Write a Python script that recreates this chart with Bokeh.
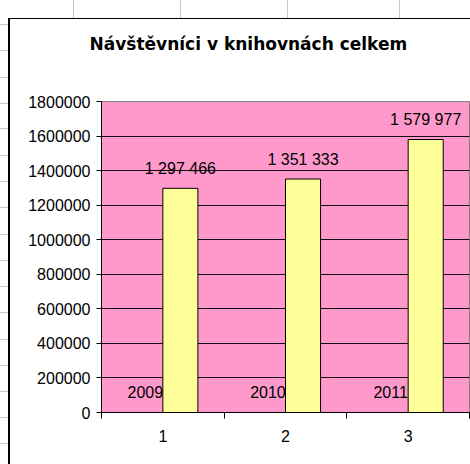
from bokeh.plotting import figure
from bokeh.models import Range1d, FixedTicker, LinearAxis
from bokeh.core.properties import value
from bokeh.embed import file_html
from bokeh.resources import INLINE

# ---- data ----
categories = [1, 2, 3]
years = [2009, 2010, 2011]
visitors = [1297466, 1351333, 1579977]
visitor_labels = ["1 297 466", "1 351 333", "1 579 977"]
year_labels = ["2009", "2010", "2011"]
y_ticks = [0, 200000, 400000, 600000, 800000, 1000000, 1200000, 1400000, 1600000, 1800000]
y_tick_labels = ["0", "200000", "400000", "600000", "800000", "1000000",
                 "1200000", "1400000", "1600000", "1800000"]
x_tick_labels = ["1", "2", "3"]
title_text = "Návštěvníci v knihovnách celkem"

FONT = "Liberation Sans"
PINK = "#FF99CC"
YELLOW = "#FFFF99"

W, H = 470, 464
LB, TB, BB, RB = 101, 101, 52, 1

p = figure(width=W, height=H, output_backend="svg", toolbar_location=None,
           x_range=Range1d(0.5, 3.5), y_range=Range1d(0, 1800000),
           min_border_left=LB, min_border_right=RB, min_border_top=TB,
           min_border_bottom=BB)
p.background_fill_color = PINK
p.border_fill_color = None
p.outline_line_color = "#808080"
p.outline_line_width = 1

# sheet background behind the chart object (decoration only)
layers = [
    "linear-gradient(#000,#000) 8px 18px / 2px 100% no-repeat",
    "linear-gradient(#000,#000) 8px 18px / 100% 1px no-repeat",
    "linear-gradient(#fff,#fff) 8px 18px / 100% 100% no-repeat",
]
for gx in [73, 180, 287, 399]:
    layers.append(f"linear-gradient(#c8c8c8,#c8c8c8) {gx}px 0px / 1px 100% no-repeat")
for gy in [24, 50, 77, 103, 128, 155, 181, 207, 234, 260, 286, 312, 339, 365, 391, 417, 443]:
    layers.append(f"linear-gradient(#c8c8c8,#c8c8c8) 0px {gy}px / 100% 1px no-repeat")
p.styles = {"background": ", ".join(layers) + ", #ffffff"}

bw = 1 / 3.5  # Excel clustered bar width (2 series, 150% gap)

xs2 = [c + bw / 2 for c in categories]
xs1 = [c - bw / 2 for c in categories]
p.vbar(x=xs2, top=visitors, width=bw, bottom=0, fill_color=YELLOW,
       line_color="black", line_width=1)

# data labels
p.text(x=xs2, y=visitors, text=visitor_labels, text_align="center",
       text_baseline="middle", y_offset=-20, text_font=value(FONT),
       text_font_size="16px", text_color="black")
p.text(x=xs1, y=years, text=year_labels, text_align="center",
       text_baseline="middle", y_offset=-20, text_font=value(FONT),
       text_font_size="16px", text_color="black")

# grid
p.xgrid.visible = False
p.ygrid.ticker = FixedTicker(ticks=y_ticks[1:-1])
p.ygrid.grid_line_color = "#111111"
p.ygrid.grid_line_width = 1

# y axis
p.yaxis.ticker = FixedTicker(ticks=y_ticks)
p.yaxis.major_label_overrides = {t: l for t, l in zip(y_ticks, y_tick_labels)}
p.yaxis.axis_line_color = "black"
p.yaxis.major_tick_line_color = "black"
p.yaxis.minor_tick_line_color = None
p.yaxis.major_tick_out = 5
p.yaxis.major_tick_in = 0
p.yaxis.major_label_standoff = 6
p.yaxis.major_label_text_font = FONT
p.yaxis.major_label_text_font_size = "16px"
p.yaxis.major_label_text_color = "black"

# x axis: labels at centres, ticks at category boundaries
p.xaxis.ticker = FixedTicker(ticks=categories, minor_ticks=[0.5, 1.5, 2.5, 3.5])
p.xaxis.major_label_overrides = {c: l for c, l in zip(categories, x_tick_labels)}
p.xaxis.axis_line_color = "black"
p.xaxis.major_tick_line_color = None
p.xaxis.major_tick_out = 0
p.xaxis.major_tick_in = 0
p.xaxis.minor_tick_line_color = "black"
p.xaxis.minor_tick_out = 6
p.xaxis.minor_tick_in = 0
p.xaxis.major_label_standoff = 11
p.xaxis.major_label_text_font = FONT
p.xaxis.major_label_text_font_size = "16px"
p.xaxis.major_label_text_color = "black"

# invisible spacer axis above the frame (pushes the title up)
spacer = LinearAxis(ticker=FixedTicker(ticks=[2]), axis_line_color=None,
                    major_tick_line_color=None, minor_tick_line_color=None,
                    major_tick_out=48, major_tick_in=0, minor_tick_out=0,
                    minor_tick_in=0, major_label_standoff=0,
                    major_label_overrides={2: ""},
                    major_label_text_font_size="1px")
p.add_layout(spacer, "above")

# title
p.title.text = title_text
p.title.text_font = "DejaVu Sans"
p.title.text_font_style = "bold"
p.title.text_font_size = "17px"
p.title.text_color = "black"
p.title.align = "left"
p.title.offset = -12
p.title.standoff = 0

open("out.html", "w").write(file_html(p, INLINE))
